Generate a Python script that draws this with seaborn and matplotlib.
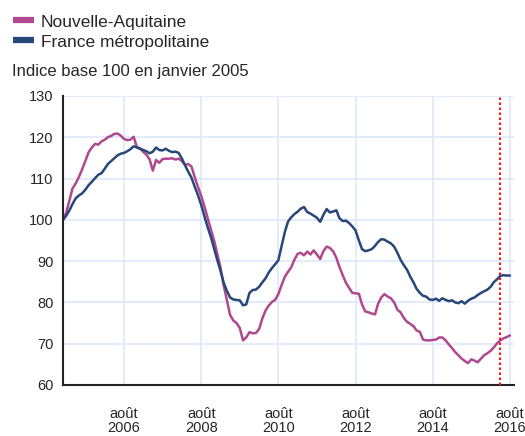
import matplotlib
matplotlib.use("Agg")
import matplotlib.pyplot as plt
from matplotlib.lines import Line2D
import seaborn as sns
import pandas as pd

# données mensuelles, indice base 100 en janvier 2005
start_month = "2005-01-01"
nouvelle_aquitaine = [
    100.0, 101.8, 104.5, 107.6, 108.8, 110.4, 112.2, 114.3, 116.4, 117.5, 118.4, 118.2,
    119.0, 119.4, 120.0, 120.3, 120.8, 120.9, 120.4, 119.6, 119.3, 119.4, 120.1, 117.6,
    117.3, 116.4, 115.8, 114.6, 111.9, 114.5, 113.8, 114.7, 114.8, 114.8, 114.9, 114.6,
    114.8, 114.2, 113.3, 113.5, 112.9, 110.3, 108.0, 105.8, 103.2, 100.4, 97.6, 95.0,
    91.6, 88.3, 84.2, 80.6, 77.0, 75.6, 75.0, 73.8, 70.8, 71.5, 72.8, 72.5,
    72.6, 73.6, 76.0, 78.0, 79.2, 80.1, 80.6, 82.0, 84.2, 86.2, 87.4, 88.5,
    90.4, 91.8, 92.0, 91.4, 92.3, 91.6, 92.6, 91.6, 90.5, 92.4, 93.5, 93.2,
    92.4, 90.8, 88.6, 86.6, 84.8, 83.5, 82.3, 82.2, 82.1, 79.5, 77.8, 77.6,
    77.3, 77.1, 79.6, 81.2, 82.0, 81.4, 81.0, 80.0, 78.2, 77.6, 76.2, 75.3,
    74.8, 74.2, 73.2, 72.9, 71.0, 70.8, 70.8, 70.9, 71.0, 71.5, 71.5, 70.8,
    69.8, 68.9, 68.0, 67.2, 66.4, 65.8, 65.3, 66.2, 65.9, 65.5, 66.4, 67.2,
    67.7, 68.3, 69.1, 70.1, 70.8, 71.3, 71.6, 72.0,
]
france_metro = [
    100.0, 101.0, 102.2, 103.8, 105.2, 105.9, 106.4, 107.3, 108.4, 109.2, 110.1, 110.9,
    111.3, 112.4, 113.5, 114.2, 114.9, 115.6, 116.0, 116.2, 116.6, 117.1, 117.8, 117.5,
    117.2, 116.9, 116.6, 116.1, 116.5, 117.5, 116.9, 116.8, 117.2, 116.7, 116.4, 116.5,
    116.2, 114.8, 113.2, 111.6, 110.2, 108.0, 106.0, 103.6, 100.8, 98.2, 95.8, 93.0,
    90.2, 87.5, 84.8, 82.8, 81.2, 80.7, 80.6, 80.5, 79.3, 79.5, 82.3, 83.0,
    83.1, 83.8, 84.8, 85.8, 87.2, 88.3, 89.2, 90.2, 93.6, 97.0, 99.6, 100.6,
    101.4, 102.0, 102.7, 103.1, 101.9, 101.5, 101.0, 100.5, 99.5, 101.2, 102.6, 101.8,
    102.0, 102.3, 100.4, 99.7, 99.8, 99.2, 98.4, 97.4, 95.0, 92.9, 92.4, 92.6,
    92.9, 93.7, 94.6, 95.3, 95.2, 94.7, 94.3, 93.5, 92.0, 90.3, 89.0, 87.9,
    86.2, 84.8, 83.3, 82.3, 81.6, 81.4, 80.7, 80.6, 80.9, 80.4, 81.0, 80.6,
    80.3, 80.5, 80.0, 79.8, 80.3, 79.7, 80.4, 80.9, 81.2, 81.8, 82.3, 82.7,
    83.1, 83.8, 84.9, 85.6, 86.4, 86.6, 86.5, 86.5,
]
zones = ["Nouvelle-Aquitaine", "France métropolitaine"]
couleurs = ["#b0488f", "#27467a"]
tick_years = [2006, 2008, 2010, 2012, 2014, 2016]
tick_labels = [f"août\n{y}" for y in tick_years]
y_ticks = [60, 70, 80, 90, 100, 110, 120, 130]
date_repere = "2016-05-01"

dates = pd.date_range(start_month, periods=len(france_metro), freq="MS")
df = pd.concat([
    pd.DataFrame({"date": dates, "indice": nouvelle_aquitaine, "zone": zones[0]}),
    pd.DataFrame({"date": dates, "indice": france_metro, "zone": zones[1]}),
])

sns.set_style("white")
plt.rcParams["font.family"] = ["Liberation Sans", "DejaVu Sans"]

fig = plt.figure(figsize=(5.25, 4.36), dpi=100)
ax = fig.add_axes([0.12, 0.117, 0.859, 0.663])

sns.lineplot(data=df, x="date", y="indice", hue="zone", hue_order=zones,
             palette=couleurs, linewidth=1.8, ax=ax, legend=False)

# ligne verticale rouge en pointillés
ax.axvline(pd.Timestamp(date_repere), color="#ff1a1a", linestyle=(0, (1.2, 1.2)),
           linewidth=1.5, zorder=3)

ax.set_xlim(pd.Timestamp(start_month), pd.Timestamp("2016-09-08"))
ax.set_ylim(60, 130)
ax.set_yticks(y_ticks)
ax.set_xticks([pd.Timestamp(f"{y}-08-01") for y in tick_years])
ax.set_xticklabels(tick_labels, fontsize=10.5, linespacing=1.0)
ax.tick_params(axis="x", length=0, pad=16)
ax.tick_params(axis="y", length=0, pad=7, labelsize=10.5)
ax.set_xlabel("")
ax.set_ylabel("")

ax.grid(True, color="#dde9f9", linewidth=1.2)
ax.set_axisbelow(True)
for s in ["top", "right"]:
    ax.spines[s].set_visible(False)
for s in ["left", "bottom"]:
    ax.spines[s].set_color("#222222")
    ax.spines[s].set_linewidth(1.5)

handles = [Line2D([], [], color=c, linewidth=4.5, solid_capstyle="butt") for c in couleurs]
fig.legend(handles, zones, loc="upper left", bbox_to_anchor=(0.015, 0.979),
           frameon=False, fontsize=12.5, handlelength=1.2, handletextpad=0.4,
           labelspacing=0.28, borderpad=0.3, borderaxespad=0)

fig.text(0.022, 0.835, "Indice base 100 en janvier 2005", fontsize=12, va="center")

fig.savefig("out.png", dpi=100)
